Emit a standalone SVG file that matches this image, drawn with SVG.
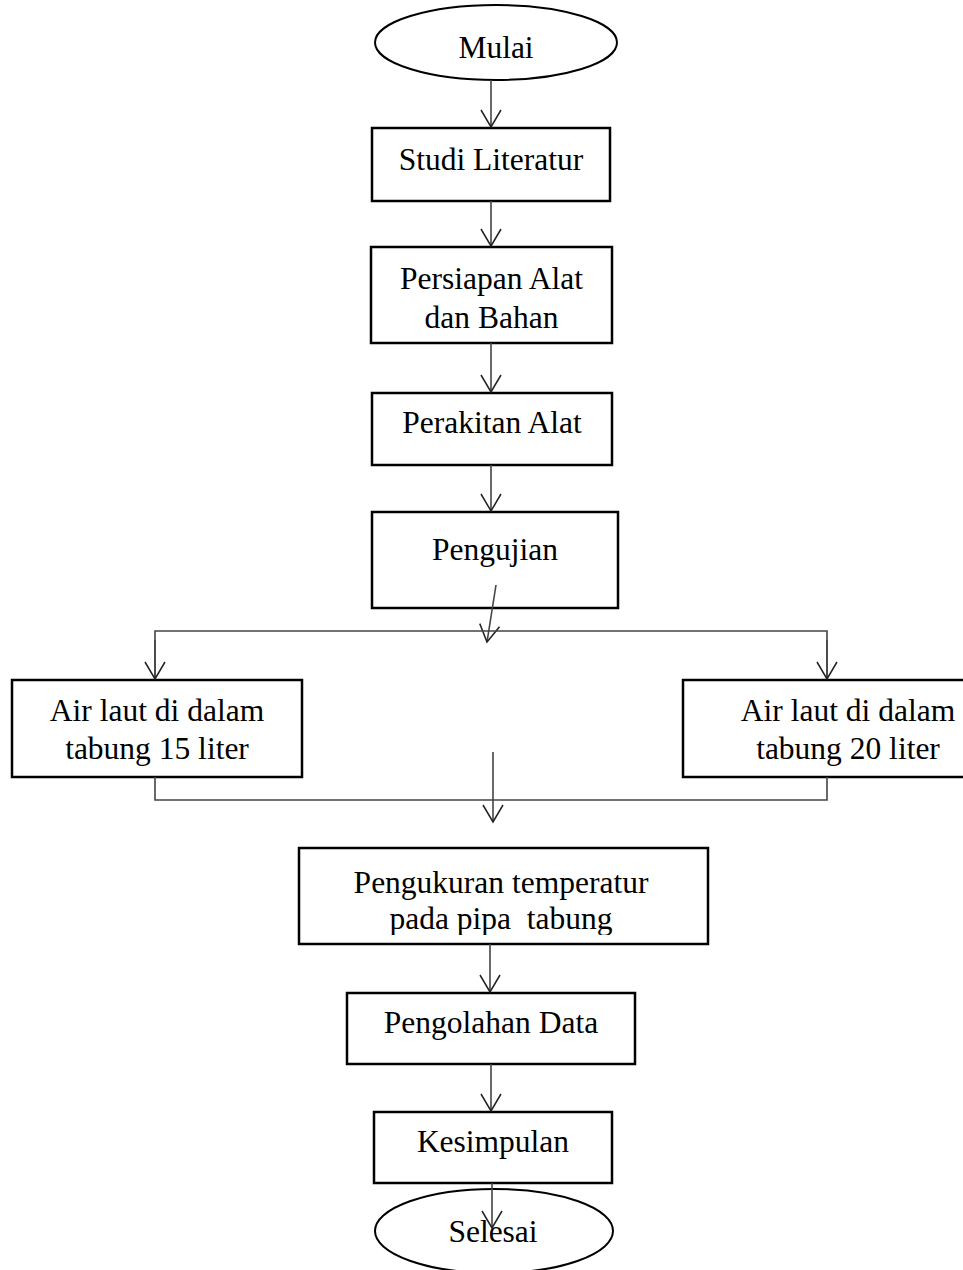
<svg xmlns="http://www.w3.org/2000/svg" width="963" height="1270" viewBox="0 0 963 1270">
<style>
.box{fill:#fff;stroke:#000;stroke-width:2.5}
.oval{fill:#fff;stroke:#000;stroke-width:2}
.t{font-family:"Liberation Serif","Times New Roman",serif;font-size:31.5px;fill:#000;text-anchor:middle}
.c{fill:none;stroke:#444;stroke-width:1.6}
</style>
<defs>
<marker id="arr" viewBox="-20 -12 24 24" refX="0" refY="0" markerWidth="24" markerHeight="24" markerUnits="userSpaceOnUse" orient="auto">
<path d="M-17,-10 L0,0 L-17,10" fill="none" stroke="#222" stroke-width="1.5"/>
</marker>
<clipPath id="clipL"><rect x="12" y="680" width="290" height="87"/></clipPath>
<clipPath id="clipR"><rect x="683" y="680" width="300" height="87"/></clipPath>
<clipPath id="clipP"><rect x="299" y="848" width="409" height="87"/></clipPath>
</defs>
<rect width="963" height="1270" fill="#fff"/>
<g id="mulai"><ellipse class="oval" cx="496" cy="42.5" rx="121" ry="37.5"/><text class="t" x="496" y="58">Mulai</text></g>
<g id="studi"><rect class="box" x="372" y="128" width="238" height="73"/><text class="t" x="491" y="170">Studi Literatur</text></g>
<g id="persiapan"><rect class="box" x="371" y="247" width="241" height="96"/><text class="t" x="491.5" y="289">Persiapan Alat</text><text class="t" x="491.5" y="328">dan Bahan</text></g>
<g id="perakitan"><rect class="box" x="372" y="393" width="240" height="72"/><text class="t" x="492" y="433">Perakitan Alat</text></g>
<g id="pengujian"><rect class="box" x="372" y="512" width="246" height="96"/><text class="t" x="495" y="560">Pengujian</text></g>
<g id="air15"><rect class="box" x="12" y="680" width="290" height="97"/><g clip-path="url(#clipL)"><text class="t" x="157" y="721">Air laut di dalam</text><text class="t" x="157" y="759">tabung 15 liter</text></g></g>
<g id="air20"><rect class="box" x="683" y="680" width="330" height="97"/><g clip-path="url(#clipR)"><text class="t" x="848" y="721">Air laut di dalam</text><text class="t" x="848" y="759">tabung 20 liter</text></g></g>
<g id="pengukuran"><rect class="box" x="299" y="848" width="409" height="96"/><g clip-path="url(#clipP)"><text class="t" x="501" y="893">Pengukuran temperatur</text><text class="t" x="501" y="929" xml:space="preserve">pada pipa  tabung</text></g></g>
<g id="pengolahan"><rect class="box" x="347" y="993" width="288" height="71"/><text class="t" x="491" y="1033">Pengolahan Data</text></g>
<g id="kesimpulan"><rect class="box" x="374" y="1112" width="238" height="71"/><text class="t" x="493" y="1152">Kesimpulan</text></g>
<g id="selesai"><ellipse class="oval" cx="494" cy="1231" rx="119" ry="42"/><text class="t" x="493" y="1242">Selesai</text></g>
<g id="connectors">
<line class="c" x1="491" y1="80" x2="491" y2="127" marker-end="url(#arr)"/>
<line class="c" x1="491" y1="201" x2="491" y2="246" marker-end="url(#arr)"/>
<line class="c" x1="491" y1="343" x2="491" y2="392" marker-end="url(#arr)"/>
<line class="c" x1="491" y1="465" x2="491" y2="511" marker-end="url(#arr)"/>
<line class="c" x1="496" y1="585" x2="487" y2="642" marker-end="url(#arr)"/>
<polyline class="c" points="155,679 155,631 827,631 827,679"/>
<line class="c" x1="155" y1="640" x2="155" y2="679" marker-end="url(#arr)"/>
<line class="c" x1="827" y1="640" x2="827" y2="679" marker-end="url(#arr)"/>
<polyline class="c" points="155,777 155,800 827,800 827,777"/>
<line class="c" x1="493" y1="752" x2="493" y2="822" marker-end="url(#arr)"/>
<line class="c" x1="490" y1="944" x2="490" y2="992" marker-end="url(#arr)"/>
<line class="c" x1="491" y1="1064" x2="491" y2="1111" marker-end="url(#arr)"/>
<line class="c" x1="492" y1="1183" x2="492" y2="1228" marker-end="url(#arr)"/>
</g>
</svg>
